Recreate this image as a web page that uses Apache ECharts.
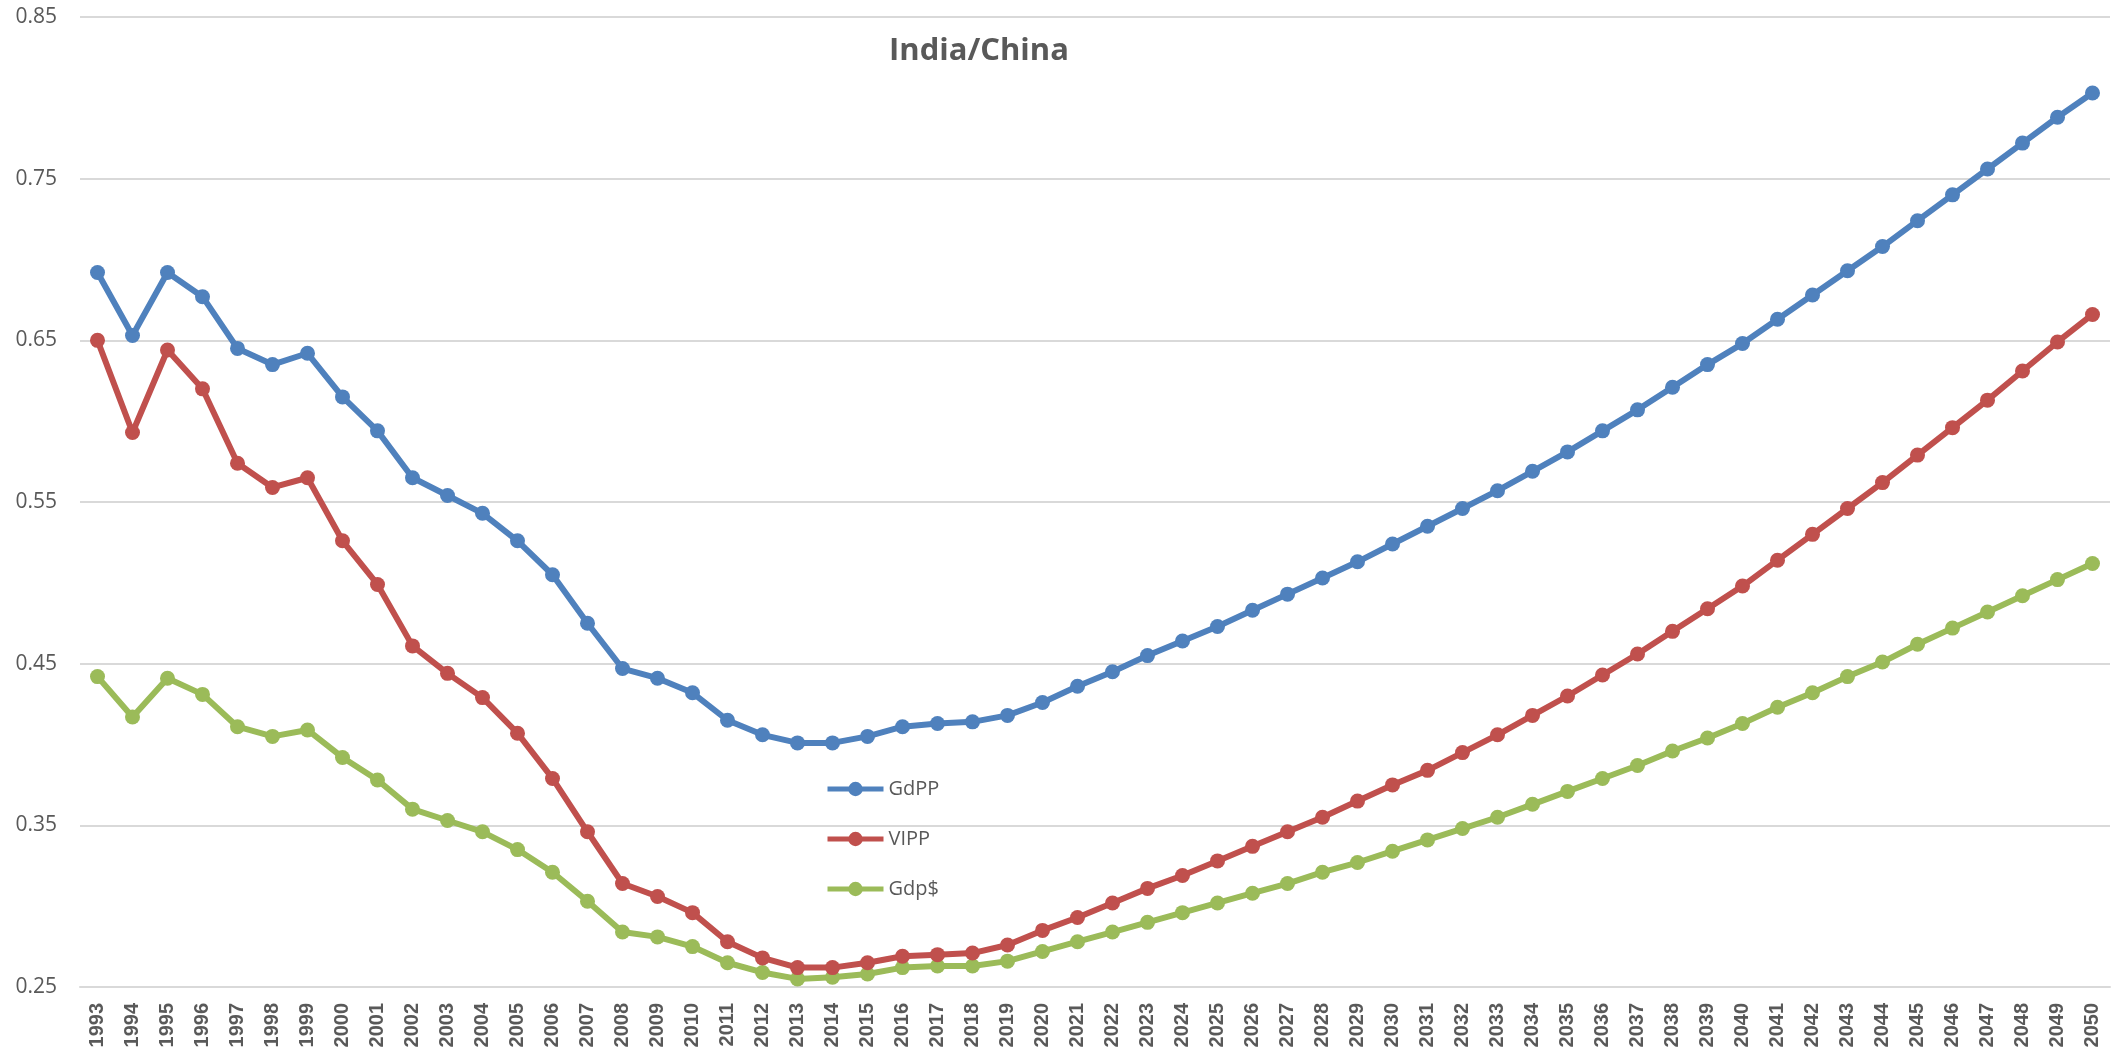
<!DOCTYPE html>
<html>
<head>
<meta charset="utf-8">
<script src="https://cdn.jsdelivr.net/npm/echarts@6/dist/echarts.min.js"></script>
<style>
  html, body { margin: 0; padding: 0; background: #fff; }
  #chart { width: 2115px; height: 1051px; }
</style>
</head>
<body>
<div id="chart"></div>
<script>
// years on the x axis
const years = [];
for (let y = 1993; y <= 2050; y++) years.push(String(y));

// values
const gdpp = [
  0.692, 0.653, 0.692, 0.677, 0.645, 0.635, 0.642, 0.615, 0.594, 0.565,
  0.554, 0.543, 0.526, 0.505, 0.475, 0.447, 0.441, 0.432, 0.415, 0.406,
  0.401, 0.401, 0.405, 0.411, 0.413, 0.414, 0.418, 0.426, 0.436, 0.445,
  0.455, 0.464, 0.473, 0.483, 0.493, 0.503, 0.513, 0.524, 0.535, 0.546,
  0.557, 0.569, 0.581, 0.594, 0.607, 0.621, 0.635, 0.648, 0.663, 0.678,
  0.693, 0.708, 0.724, 0.740, 0.756, 0.772, 0.788, 0.803
];
const vipp = [
  0.650, 0.593, 0.644, 0.620, 0.574, 0.559, 0.565, 0.526, 0.499, 0.461,
  0.444, 0.429, 0.407, 0.379, 0.346, 0.314, 0.306, 0.296, 0.278, 0.268,
  0.262, 0.262, 0.265, 0.269, 0.270, 0.271, 0.276, 0.285, 0.293, 0.302,
  0.311, 0.319, 0.328, 0.337, 0.346, 0.355, 0.365, 0.375, 0.384, 0.395,
  0.406, 0.418, 0.430, 0.443, 0.456, 0.470, 0.484, 0.498, 0.514, 0.530,
  0.546, 0.562, 0.579, 0.596, 0.613, 0.631, 0.649, 0.666
];
const gdpd = [
  0.442, 0.417, 0.441, 0.431, 0.411, 0.405, 0.409, 0.392, 0.378, 0.360,
  0.353, 0.346, 0.335, 0.321, 0.303, 0.284, 0.281, 0.275, 0.265, 0.259,
  0.255, 0.256, 0.258, 0.262, 0.263, 0.263, 0.266, 0.272, 0.278, 0.284,
  0.290, 0.296, 0.302, 0.308, 0.314, 0.321, 0.327, 0.334, 0.341, 0.348,
  0.355, 0.363, 0.371, 0.379, 0.387, 0.396, 0.404, 0.413, 0.423, 0.432,
  0.442, 0.451, 0.462, 0.472, 0.482, 0.492, 0.502, 0.512
];

const seriesNames = ['GdPP', 'VIPP', 'Gdp$'];
const seriesColors = ['#4F81BD', '#C0504D', '#9BBB59'];
const seriesData = [gdpp, vipp, gdpd];

const textGray = '#595959';

const myChart = echarts.init(document.getElementById('chart'));

const option = {
  backgroundColor: '#fff',
  animation: false,
  title: {
    text: 'India/China',
    left: 884,
    top: 31,
    textStyle: {
      color: textGray,
      fontFamily: 'Open Sans',
      fontWeight: 'bold',
      fontSize: 31
    }
  },
  legend: {
    orient: 'vertical',
    left: 820,
    top: 774,
    itemWidth: 56,
    itemHeight: 18,
    itemGap: 30,
    lineStyle: { width: 5 },
    textStyle: {
      color: textGray,
      fontFamily: 'Open Sans',
      fontSize: 20
    },
    data: seriesNames
  },
  grid: {
    left: 80,
    right: 5,
    top: 17,
    bottom: 64,
    containLabel: false,
    outerBoundsMode: 'none'
  },
  xAxis: {
    type: 'category',
    data: years,
    boundaryGap: true,
    axisLine: { show: true, lineStyle: { color: '#D9D9D9', width: 2 } },
    axisTick: { show: false },
    axisLabel: {
      rotate: 90,
      interval: 0,
      margin: 16,
      color: textGray,
      fontFamily: 'Liberation Sans',
      fontWeight: 'bold',
      fontSize: 20
    }
  },
  yAxis: {
    type: 'value',
    min: 0.25,
    max: 0.85,
    interval: 0.1,
    axisLine: { show: false },
    axisTick: { show: false },
    splitLine: { lineStyle: { color: '#D9D9D9', width: 2 } },
    axisLabel: {
      margin: 23,
      color: textGray,
      fontFamily: 'Open Sans',
      fontSize: 21,
      formatter: (v) => v.toFixed(2)
    }
  },
  series: seriesNames.map((name, i) => ({
    name: name,
    type: 'line',
    data: seriesData[i],
    symbol: 'circle',
    symbolSize: 15,
    showAllSymbol: true,
    lineStyle: { width: 6, color: seriesColors[i] },
    itemStyle: { color: seriesColors[i] },
    z: 3 - i
  }))
};

myChart.setOption(option);
</script>
</body>
</html>
